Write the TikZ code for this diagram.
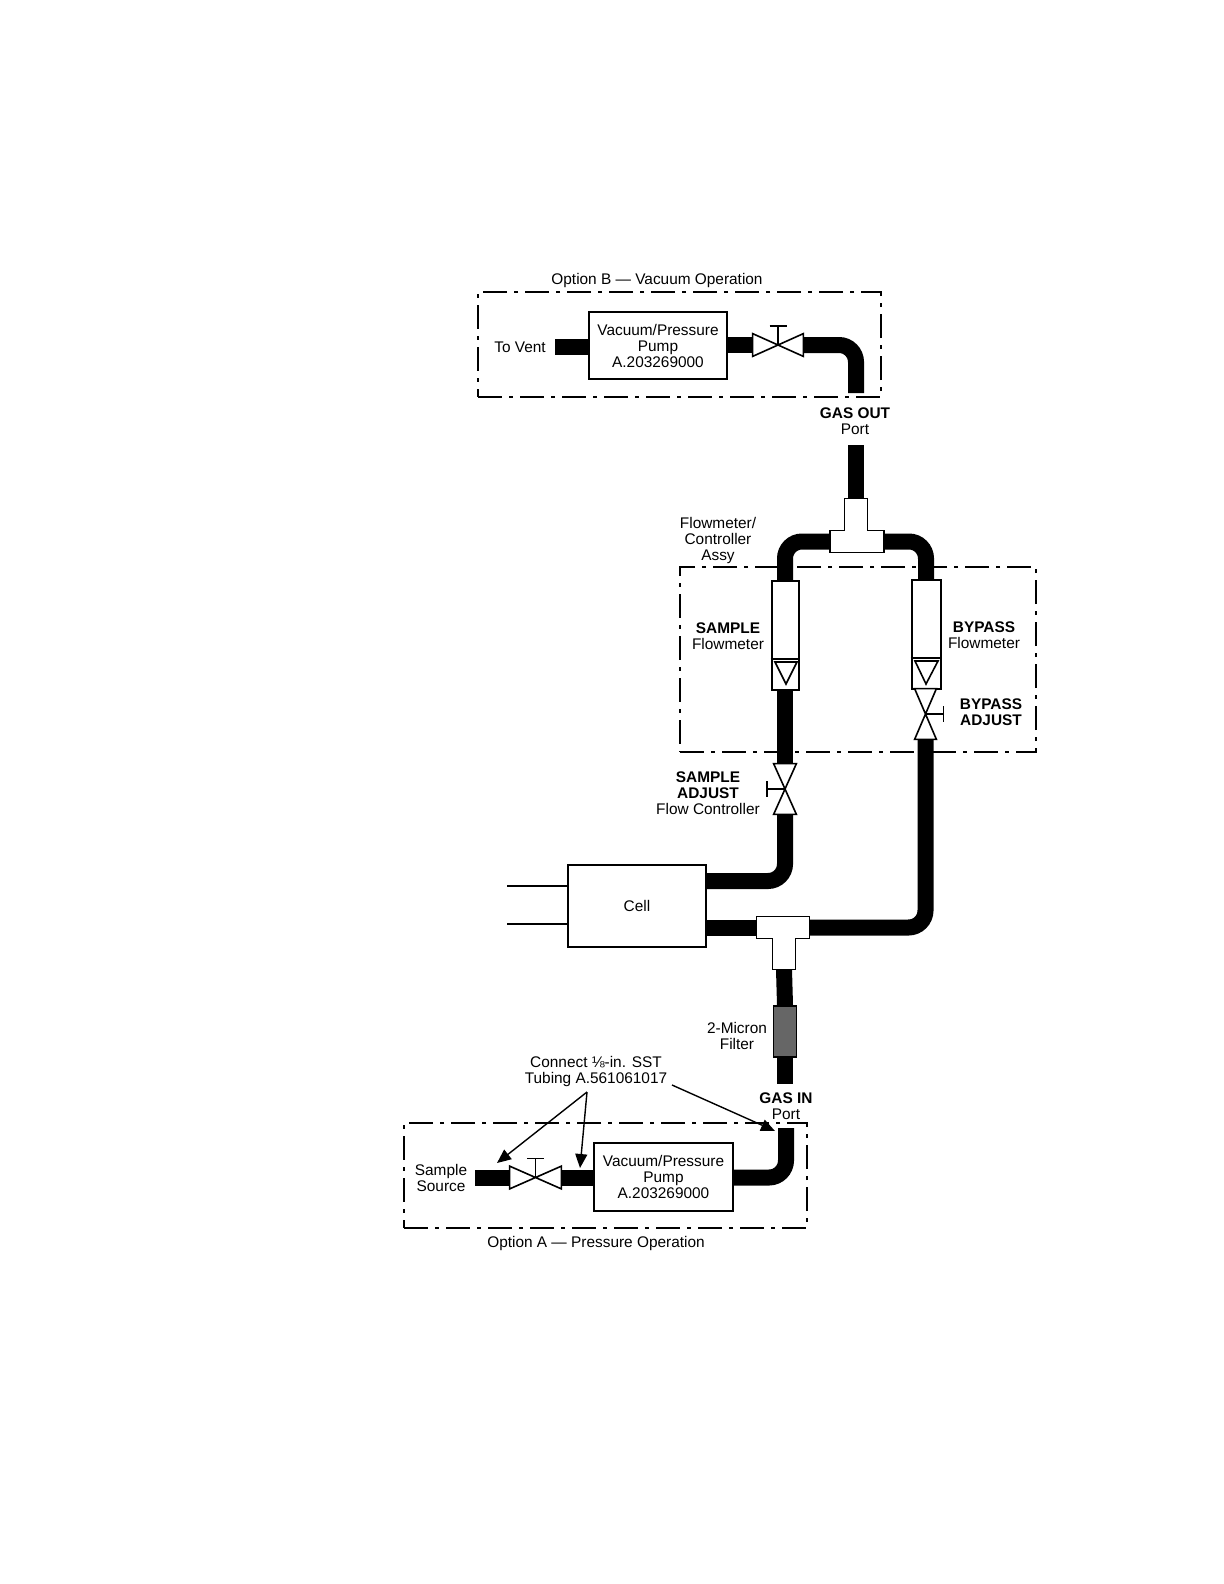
\documentclass[tikz,border=0pt]{standalone}
\usepackage{fontspec}
\setmainfont{Liberation Sans}
\usetikzlibrary{arrows.meta,positioning,calc}

\begin{document}
\begin{tikzpicture}[x=0.5pt,y=-0.5pt,
    every node/.style={font=\fontsize{7.7}{8}\selectfont,align=center,inner sep=0pt},
    tube/.style={line width=8pt,line cap=butt,rounded corners=8.5pt},
    devbox/.style={draw,line width=1pt,fill=white},
    optbox/.style={draw,line width=1.1pt,dash pattern=on 12pt off 3.5pt on 2pt off 3.5pt},
    valveline/.style={draw,fill=white,line width=0.8pt,line join=miter},
    leader/.style={line width=0.7pt,-{Triangle[length=7pt,width=6pt]}}]
    \useasboundingbox (0,0) rectangle (1224,1584);
    % Dash-dot outlines
    \node[optbox,minimum width=201.5pt,minimum height=52.5pt] (optB) at (679.5,344.5) {};
    \node[optbox,minimum width=178pt,minimum height=92.5pt] (assy) at (858,659.5) {};
    \node[optbox,minimum width=201.5pt,minimum height=52.5pt] (optA) at (605.5,1175.5) {};
    % Boxes
    \node[devbox,minimum width=69pt,minimum height=33.5pt] (pumpB) at (658,345.5) {Vacuum/Pressure\\Pump\\A.203269000};
    \node[devbox,minimum width=69.5pt,minimum height=34pt] (pumpA) at (663.5,1177) {Vacuum/Pressure\\Pump\\A.203269000};
    \node[devbox,minimum width=69pt,minimum height=41pt,text depth=-1pt] (cell) at (637,906) {Cell};
    \node[devbox,minimum width=13.5pt,minimum height=54.5pt] (fmS) at (785,635.5) {};
    \node[devbox,minimum width=14.5pt,minimum height=54.5pt] (fmB) at (926,634.5) {};
    \node[draw,line width=0.8pt,fill=black!60,minimum width=11.5pt,minimum height=25.5pt] (filter) at (785,1031.5) {};
    % Valve bodies
    \node[minimum width=25pt,minimum height=11pt] (valveB) at (778,345) {};
    \node[minimum width=25.5pt,minimum height=11pt] (valveA) at (535.5,1177.5) {};
    \node[minimum width=11pt,minimum height=25pt] (valveS) at (785,789) {};
    \node[minimum width=10.5pt,minimum height=25pt] (valveBy) at (925.5,714) {};
    % Tee fittings
    \node[minimum width=26.5pt,minimum height=10.5pt] (teeOut) at (857,541.5) {};
    \node[minimum width=11pt,minimum height=16pt] (teeOutStem) at (856,515) {};
    \node[minimum width=26pt,minimum height=10.5pt] (teeIn) at (783,927.5) {};
    \node[minimum width=11pt,minimum height=15.5pt] (teeInStem) at (784,953.5) {};
    % Free ends of the tubing
    \coordinate (ventEnd) at (555,347);
    \coordinate (gasOutTop) at (856,393);
    \coordinate (gasOutBot) at (856,445);
    \coordinate (gasInBot) at (785,1084);
    \coordinate (gasInTop) at (786,1128);
    \coordinate (sampleEnd) at (475,1178);
    % Tubing
    \draw[tube] (ventEnd) -- (pumpB.west |- ventEnd);
    \draw[tube] (pumpB.east |- valveB) -- (valveB.west);
    \draw[tube] (valveB.east) -- (gasOutTop |- valveB) -- (gasOutTop);
    \draw[tube] (gasOutBot) -- (teeOutStem.north);
    \draw[tube] (teeOut.west) -- (fmS.north |- teeOut) -- (fmS.north);
    \draw[tube] (teeOut.east) -- (fmB.north |- teeOut) -- (fmB.north);
    \draw[tube] (fmS.south) -- (valveS.north);
    \draw[tube] (valveS.south) -- (valveS |- 0,881) -- (cell.east |- 0,881);
    \draw[tube] (valveBy.south) -- (valveBy |- teeIn) -- (teeIn.east);
    \draw[tube] (cell.east |- teeIn) -- (teeIn.west);
    \draw[tube] (teeInStem.south) -- (filter.north);
    \draw[tube] (filter.south) -- (gasInBot);
    \draw[tube] (sampleEnd) -- (sampleEnd -| valveA.west);
    \draw[tube] (valveA.east) -- (pumpA.west |- valveA);
    \draw[tube] (pumpA.east |- valveA) -- (gasInTop |- valveA) -- (gasInTop);
    % Tee outlines
    \draw[valveline] (teeOutStem.north west) -- (teeOutStem.north east) -- (teeOutStem.east |- teeOut.north)
      -- (teeOut.north east) -- (teeOut.south east) -- (teeOut.south west) -- (teeOut.north west)
      -- (teeOutStem.west |- teeOut.north) -- cycle;
    \draw[valveline] (teeInStem.south west) -- (teeInStem.south east) -- (teeInStem.east |- teeIn.south)
      -- (teeIn.south east) -- (teeIn.north east) -- (teeIn.north west) -- (teeIn.south west)
      -- (teeInStem.west |- teeIn.south) -- cycle;
    % Valves
    \draw[valveline] (valveB.north west) -- (valveB.south east) -- (valveB.north east) -- (valveB.south west) -- cycle;
    \draw[line width=0.8pt] (valveB.center) -- ++(0,-19) ++(-8.5,0) -- ++(17,0);
    \draw[valveline] (valveA.north west) -- (valveA.south east) -- (valveA.north east) -- (valveA.south west) -- cycle;
    \draw[line width=0.8pt] (valveA.center) -- ++(0,-19) ++(-8.5,0) -- ++(17,0);
    \draw[valveline] (valveS.north west) -- (valveS.north east) -- (valveS.south west) -- (valveS.south east) -- cycle;
    \draw[line width=0.8pt] (valveS.center) -- ++(-18,0) ++(0,-8) -- ++(0,16);
    \draw[valveline] (valveBy.north west) -- (valveBy.north east) -- (valveBy.south west) -- (valveBy.south east) -- cycle;
    \draw[line width=0.8pt] (valveBy.center) -- ++(18,0) ++(0,-8) -- ++(0,16);
    % Flowmeter floats
    \draw[line width=0.8pt] (fmS.west |- 0,659) -- (fmS.east |- 0,659);
    \draw[line width=0.8pt] (fmB.west |- 0,658) -- (fmB.east |- 0,658);
    \draw[line width=0.8pt,line join=miter] (775,662) -- (797,662) -- (786,684) -- cycle;
    \draw[line width=0.8pt,line join=miter] (915,661) -- (938,661) -- (926,684) -- cycle;
    % Cell leads
    \coordinate (leadA) at (507,886);
    \coordinate (leadB) at (507,924);
    \draw[line width=1.3pt] (leadA) -- (cell.west |- leadA);
    \draw[line width=1.3pt] (leadB) -- (cell.west |- leadB);
    % Labels
    \node (lblOptB) at (657,280.5) {Option B --- Vacuum Operation};
    \node (lblVent) at (520,347) {To Vent};
    \node (lblGasOut) at (855,421.5) {{\bfseries GAS OUT}\\Port};
    \node (lblAssy) at (718,541) {Flowmeter/\\Controller\\Assy};
    \node (lblSample) at (728,636) {{\bfseries SAMPLE}\\Flowmeter};
    \node (lblBypass) at (984,635) {{\bfseries BYPASS}\\Flowmeter};
    \node (lblByAdj) at (991,712) {\bfseries BYPASS\\\bfseries ADJUST};
    \node (lblSaAdj) at (708,793) {{\bfseries SAMPLE}\\{\bfseries ADJUST}\\Flow Controller};
    \node (lblFilter) at (737,1036) {2-Micron\\Filter};
    \node (lblTubing) at (596,1071.5) {Connect ⅛-in. SST\\Tubing A.561061017};
    \node (lblGasIn) at (786,1106) {{\bfseries GAS IN}\\Port};
    \node (lblSource) at (441,1178) {Sample\\Source};
    \node (lblOptA) at (596,1244) {Option A --- Pressure Operation};
    % Leaders
    \coordinate (tapA) at (587,1092);
    \coordinate (tapB) at (672,1085);
    \coordinate (tipSource) at (497,1163);
    \coordinate (tipPump) at (580,1168);
    \coordinate (tipGasIn) at (775,1131);
    \draw[leader] (tapA) -- (tipSource);
    \draw[leader] (tapA) -- (tipPump);
    \draw[leader] (tapB) -- (tipGasIn);
\end{tikzpicture}
\end{document}
